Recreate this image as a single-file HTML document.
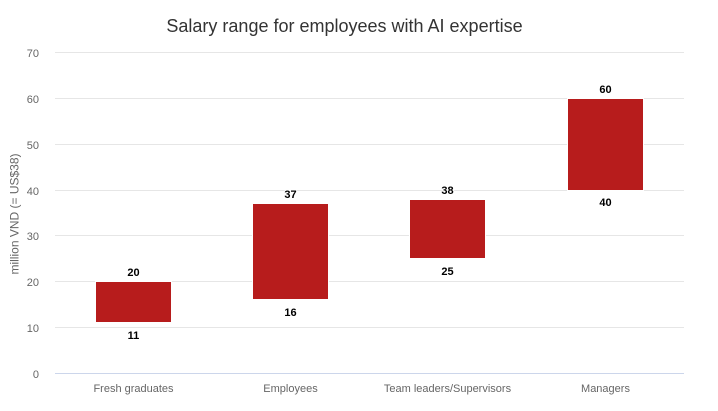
<!DOCTYPE html>
<html><head><meta charset="utf-8"><style>
html,body{margin:0;padding:0;background:#fff;}
svg{display:block;font-family:"Liberation Sans",Arial,sans-serif;}
</style></head><body>
<svg width="718" height="411" viewBox="0 0 718 411" xmlns="http://www.w3.org/2000/svg">
<rect width="718" height="411" fill="#fff"/>
<text x="344.5" y="32" text-anchor="middle" font-size="18" fill="#333333">Salary range for employees with AI expertise</text>
<g stroke="#e6e6e6" stroke-width="1">
<line x1="55" x2="684" y1="52.5" y2="52.5"/>
<line x1="55" x2="684" y1="98.5" y2="98.5"/>
<line x1="55" x2="684" y1="144.5" y2="144.5"/>
<line x1="55" x2="684" y1="190.5" y2="190.5"/>
<line x1="55" x2="684" y1="235.5" y2="235.5"/>
<line x1="55" x2="684" y1="281.5" y2="281.5"/>
<line x1="55" x2="684" y1="327.5" y2="327.5"/>
</g>
<line x1="55" x2="684" y1="373.5" y2="373.5" stroke="#ccd6eb" stroke-width="1"/>
<g font-size="11" fill="#666666" text-anchor="end">
<text x="39" y="57">70</text>
<text x="39" y="103">60</text>
<text x="39" y="149">50</text>
<text x="39" y="195">40</text>
<text x="39" y="240">30</text>
<text x="39" y="286">20</text>
<text x="39" y="332">10</text>
<text x="39" y="378">0</text>
</g>
<text transform="translate(18.5,214) rotate(-90)" text-anchor="middle" font-size="12" fill="#666666">million VND (= US$38)</text>
<g fill="#b71c1c" stroke="#ffffff" stroke-width="1">
<rect x="95.5" y="281.5" width="76" height="41"/>
<rect x="252.5" y="203.5" width="76" height="96"/>
<rect x="409.5" y="199.5" width="76" height="59"/>
<rect x="567.5" y="98.5" width="76" height="92"/>
</g>
<g font-size="11" font-weight="bold" fill="#000" text-anchor="middle" stroke="#fff" stroke-width="2" paint-order="stroke" stroke-linejoin="round">
<text x="133.5" y="276">20</text>
<text x="133.5" y="339">11</text>
<text x="290.5" y="198">37</text>
<text x="290.5" y="316">16</text>
<text x="447.5" y="194">38</text>
<text x="447.5" y="275">25</text>
<text x="605.5" y="93">60</text>
<text x="605.5" y="206">40</text>
</g>
<g font-size="11" fill="#666666" text-anchor="middle">
<text x="133.5" y="392">Fresh graduates</text>
<text x="290.5" y="392">Employees</text>
<text x="447.5" y="392">Team leaders/Supervisors</text>
<text x="605.5" y="392">Managers</text>
</g>
</svg>
</body></html>
